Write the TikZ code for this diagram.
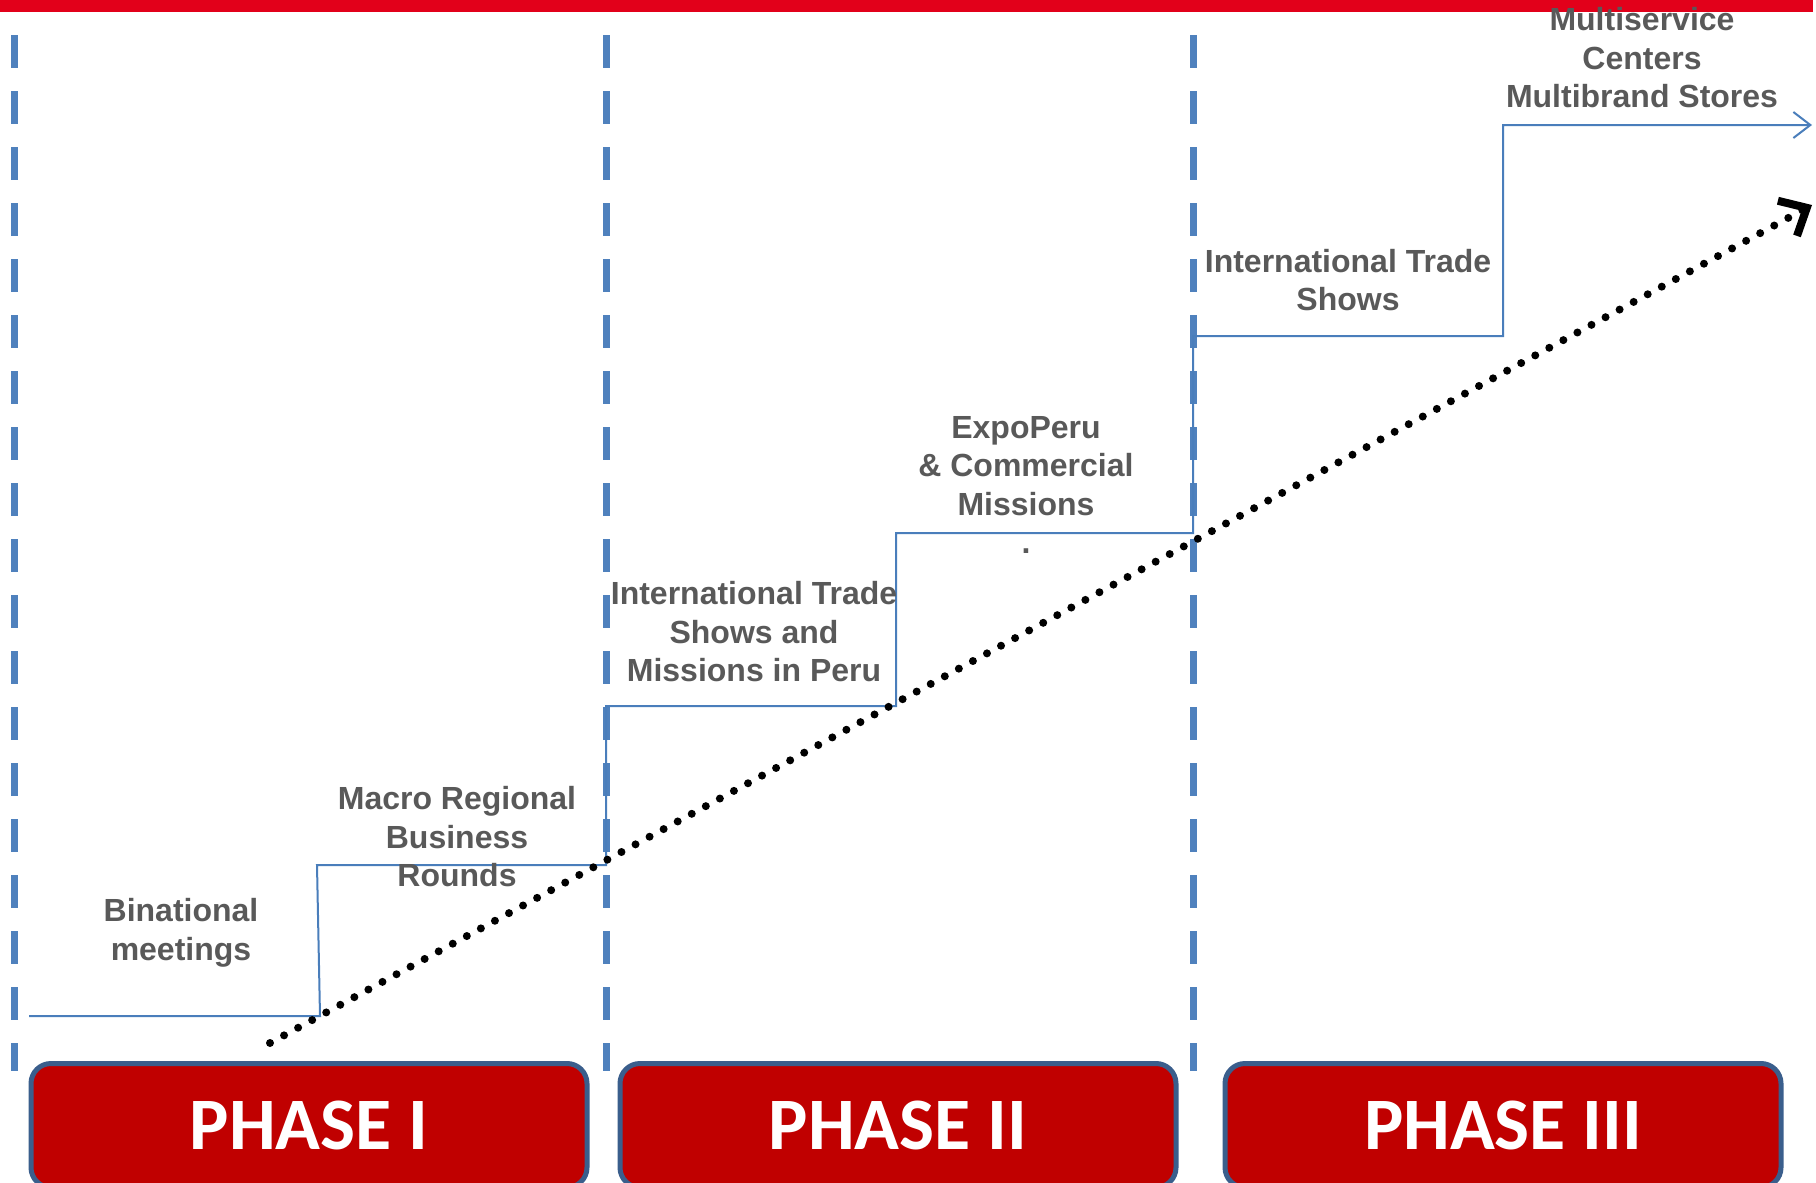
\documentclass[tikz,border=0pt]{standalone}
\usepackage{fontspec}
\setmainfont{Liberation Sans}
\newfontfamily\phasefont{Carlito}
\usetikzlibrary{arrows.meta}
\definecolor{topred}{HTML}{E2001A}
\definecolor{phasered}{HTML}{C00000}
\definecolor{phaseedge}{HTML}{3A5E8C}
\definecolor{stepblue}{HTML}{4A7EBB}
\definecolor{dashblue}{HTML}{4F81BD}
\definecolor{textgray}{HTML}{595959}
\tikzstyle{phase} = [rectangle, rounded corners=20pt, minimum width=556pt, minimum height=124pt, anchor=north, draw=phaseedge, line width=5pt, fill=phasered, text=white, font=\phasefont\bfseries\fontsize{74}{78}\selectfont]
\tikzstyle{steptext} = [align=center, text=textgray, font=\bfseries\fontsize{32}{38.5}\selectfont, inner sep=0pt]
\tikzstyle{divider} = [dashblue, line width=7pt, dash pattern=on 33pt off 23pt]
\tikzstyle{stepline} = [stepblue, line width=2pt]
\tikzstyle{trend} = [black, line width=8pt, line cap=round, dash pattern=on 0pt off 16pt]

\begin{document}
\begin{tikzpicture}[x=1pt, y=-1pt]
\useasboundingbox (0,0) rectangle (1816,1183);
% top bar
\fill[topred] (0,0) rectangle (1813,12);

% phase dividers
\foreach \x/\n in {14/1, 606/2, 1193/3} {
    \coordinate (d\n t) at (\x,35);
    \coordinate (d\n b) at (\x,1071);
    \draw[divider] (d\n t) -- (d\n b);
}

% phases
\node [phase] (ph1) at (309,1061) {PHASE I};
\node [phase] (ph2) at (898,1061) {PHASE II};
\node [phase] (ph3) at (1503,1061) {PHASE III};

% staircase
\coordinate (s0) at (29,1016);
\coordinate (s1) at (320,1016);
\coordinate (s2) at (317,865);
\coordinate (s3) at (606,865);
\coordinate (s4) at (606,706);
\coordinate (s5) at (896,706);
\coordinate (s6) at (896,533);
\coordinate (s7) at (1193,533);
\coordinate (s8) at (1193,336);
\coordinate (s9) at (1503,336);
\coordinate (s10) at (1503,125);
\coordinate (s11) at (1812,125);
\draw[stepline, -{Straight Barb[length=17pt, width=26pt]}] (s0) -- (s1) -- (s2) -- (s3) -- (s4) -- (s5) -- (s6) -- (s7) -- (s8) -- (s9) -- (s10) -- (s11);

% steps
\node [steptext] (binat) at (181,933) {Binational\\meetings};
\node [steptext] (macro) at (457,837) {Macro Regional\\Business\\Rounds};
\node [steptext] (itsperu) at (754,632) {International Trade\\Shows and\\Missions in Peru};
\node [steptext] (expo) at (1026,485) {ExpoPeru\\\& Commercial\\Missions\\.};
\node [steptext] (its) at (1348,280) {International Trade\\Shows};
\node [steptext] (multi) at (1642,58) {Multiservice\\Centers\\Multibrand Stores};

% trend
\coordinate (t0) at (270,1043);
\coordinate (t1) at (1812,205);
\draw[trend, -{Straight Barb[length=22pt, width=40pt]}] (t0) -- (t1);
\end{tikzpicture}
\end{document}
